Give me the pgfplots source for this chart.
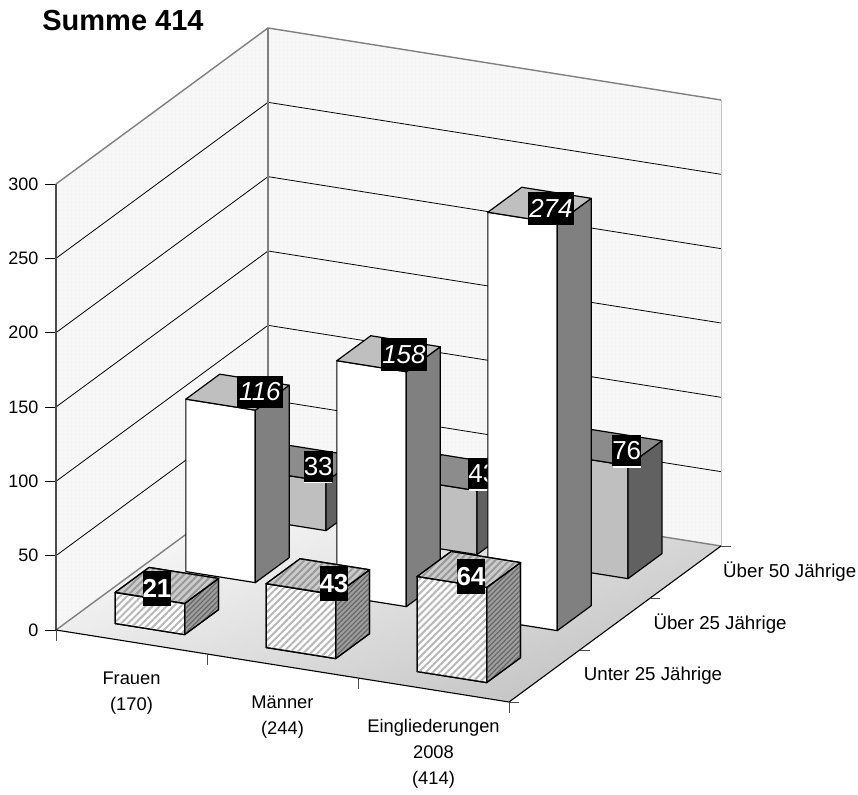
\documentclass[border=0pt]{standalone}
\usepackage{fontspec}
\setmainfont{Liberation Sans}
\usepackage{pgfplots}
\pgfplotsset{compat=1.18}
\usetikzlibrary{patterns,patterns.meta}

% faces of the columns
\tikzset{
  edge/.style={draw=black,line width=1.2pt,line join=round},
  wfront/.style={edge,fill=white},
  wside/.style={edge,fill=black!50},
  wtop/.style={edge,fill=black!25},
  gfront/.style={edge,fill=black!25},
  gside/.style={edge,fill=black!62},
  gtop/.style={edge,fill=black!45},
  hfront/.style={edge,fill=white,postaction={pattern={Lines[angle=45,distance=5pt,line width=2pt]},pattern color=black!28}},
  hside/.style={edge,fill=black!38,postaction={pattern={Lines[angle=45,distance=3.5pt,line width=1.2pt]},pattern color=black!60}},
  htop/.style={edge,fill=black!20,postaction={pattern={Lines[angle=45,distance=5pt,line width=2pt]},pattern color=black!40}},
  wall/.style={draw=none,fill=black!3,postaction={pattern={Hatch[angle=0,distance=4pt,line width=.3pt]},pattern color=black!5}},
  gridl/.style={draw=black,line width=.8pt},
  edgel/.style={draw=black!50,line width=1.4pt},
  wert/.style={fill=black,text=white,inner sep=0pt,font=\fontsize{26}{26}\selectfont},
}
% x0 x1 y0 y1 value style-prefix
\newcommand{\saeule}[6]{%
  \addplot3[#6front] coordinates {(#1,#3,0)(#2,#3,0)(#2,#3,#5)(#1,#3,#5)} -- cycle;
  \addplot3[#6side] coordinates {(#2,#3,0)(#2,#4,0)(#2,#4,#5)(#2,#3,#5)} -- cycle;
  \addplot3[#6top] coordinates {(#1,#3,#5)(#2,#3,#5)(#2,#4,#5)(#1,#4,#5)} -- cycle;
}
\newcommand{\gitter}[1]{%
  \addplot3[gridl] coordinates {(0,0,#1)(0,3,#1)(3,3,#1)};
  \draw[black,line width=.8pt] (axis cs:0,0,#1) -- ++(-11pt,0);
  \node[anchor=east,font=\fontsize{18}{22}\selectfont] at (axis cs:0,0,#1) [xshift=-14pt] {#1};
}

\begin{document}
\begin{tikzpicture}
\useasboundingbox (0,0) rectangle (858pt,794pt);
\begin{axis}[
  at={(56pt,164pt)},
  anchor=origin,
  x={(151pt,-24pt)},
  y={(70.67pt,52pt)},
  z={(0pt,1.4867pt)},
  xmin=0,xmax=3,
  ymin=0,ymax=3,
  zmin=0,zmax=300,
  axis lines=none,
  clip=false,
]
% walls and floor
\addplot3[wall] coordinates {(0,0,0)(0,3,0)(0,3,300)(0,0,300)} -- cycle;
\addplot3[wall] coordinates {(0,3,0)(3,3,0)(3,3,300)(0,3,300)} -- cycle;
\addplot3[draw=none,top color=white,middle color=black!6,bottom color=black!24,shading angle=20] coordinates {(0,0,0)(3,0,0)(3,3,0)(0,3,0)} -- cycle;

\gitter{50}
\gitter{100}
\gitter{150}
\gitter{200}
\gitter{250}
\draw[black,line width=.8pt] (axis cs:0,0,300) -- ++(-11pt,0);
\node[anchor=east,font=\fontsize{18}{22}\selectfont] at (axis cs:0,0,300) [xshift=-14pt] {300};
\draw[black,line width=.8pt] (axis cs:0,0,0) -- ++(-11pt,0);
\node[anchor=east,font=\fontsize{18}{22}\selectfont] at (axis cs:0,0,0) [xshift=-14pt] {0};

\addplot3[edgel] coordinates {(0,0,300)(0,3,300)(3,3,300)};
\addplot3[edgel] coordinates {(0,3,300)(0,3,0)};
\addplot3[edgel] coordinates {(0,0,0)(0,3,0)(3,3,0)};
\addplot3[draw=black!22,line width=1pt] coordinates {(3,3,0)(3,3,300)};
\addplot3[draw=black!70,line width=1.2pt] coordinates {(0,0,0)(0,0,300)};
\addplot3[draw=black,line width=1.1pt] coordinates {(0,0,0)(3,0,0)(3,3,0)};

% ticks on the floor
\draw[black!70,line width=.8pt] (axis cs:0,0,0) -- ++(0,-11pt);
\draw[black!70,line width=.8pt] (axis cs:1,0,0) -- ++(0,-11pt);
\draw[black!70,line width=.8pt] (axis cs:2,0,0) -- ++(0,-11pt);
\draw[black!70,line width=.8pt] (axis cs:3,0,0) -- ++(0,-11pt);
\draw[black!70,line width=.8pt] (axis cs:3,0,0) -- ++(10pt,0);
\draw[black!70,line width=.8pt] (axis cs:3,1,0) -- ++(10pt,0);
\draw[black!70,line width=.8pt] (axis cs:3,2,0) -- ++(10pt,0);
\draw[black!70,line width=.8pt] (axis cs:3,3,0) -- ++(10pt,0);

% axis texts
\node[anchor=north,align=center,font=\fontsize{18.3}{26}\selectfont,yshift=-26pt] at (axis cs:0.5,0,0) {Frauen\\(170)};
\node[anchor=north,align=center,font=\fontsize{18.3}{26}\selectfont,yshift=-26pt] at (axis cs:1.5,0,0) {Männer\\(244)};
\node[anchor=north,align=center,font=\fontsize{18.3}{26}\selectfont,yshift=-26pt] at (axis cs:2.5,0,0) {Eingliederungen\\2008\\(414)};
\node[anchor=west,font=\fontsize{18.7}{22}\selectfont,xshift=36pt] at (axis cs:3,0.5,0) {Unter 25 Jährige};
\node[anchor=west,font=\fontsize{18.7}{22}\selectfont,xshift=35pt] at (axis cs:3,1.5,0) {Über 25 Jährige};
\node[anchor=west,font=\fontsize{18.7}{22}\selectfont,xshift=34pt] at (axis cs:3,2.5,0) {Über 50 Jährige};

% back row: Über 50 Jährige
\saeule{0.275}{0.735}{2.25}{2.73}{33}{g}
\node[fill=white,minimum width=28pt,minimum height=31pt,inner sep=0pt] at (axis cs:0.505,2.49,33) [xshift=10pt,yshift=-4.4pt] {};
\node[wert,minimum width=28pt,minimum height=31pt] at (axis cs:0.505,2.49,33) [xshift=10pt,yshift=-2.6pt] {33};
\saeule{1.275}{1.735}{2.25}{2.73}{43}{g}
\node[fill=white,minimum width=28pt,minimum height=31pt,inner sep=0pt] at (axis cs:1.505,2.49,43) [xshift=23.7pt,yshift=-2.4pt] {};
\node[wert,minimum width=28pt,minimum height=31pt] at (axis cs:1.505,2.49,43) [xshift=23.7pt,yshift=-0.6pt] {43};
\saeule{2.275}{2.735}{2.25}{2.73}{76}{g}
\node[fill=white,minimum width=28pt,minimum height=31pt,inner sep=0pt] at (axis cs:2.505,2.49,76) [xshift=16.5pt,yshift=-5pt] {};
\node[wert,minimum width=28pt,minimum height=31pt] at (axis cs:2.505,2.49,76) [xshift=16.5pt,yshift=-3.2pt] {76};

% middle row: Über 25 Jährige
\saeule{0.275}{0.735}{1.25}{1.73}{116}{w}
\node[wert,minimum width=46pt,minimum height=32.7pt] at (axis cs:0.505,1.49,116) [xshift=22.4pt,yshift=0.2pt] {\itshape 116};
\saeule{1.275}{1.735}{1.25}{1.73}{158}{w}
\node[wert,minimum width=46pt,minimum height=32.7pt] at (axis cs:1.505,1.49,158) [xshift=15.4pt,yshift=-1pt] {\itshape 158};
\saeule{2.275}{2.735}{1.25}{1.73}{274}{w}
\node[wert,minimum width=46pt,minimum height=32.7pt] at (axis cs:2.505,1.49,274) [xshift=11.4pt,yshift=-3.1pt] {\itshape 274};

% front row: Unter 25 Jährige
\saeule{0.275}{0.735}{0.25}{0.73}{21}{h}
\node[wert,minimum width=28pt,minimum height=35pt] at (axis cs:0.505,0.49,21) [xshift=-9.9pt,yshift=-2.8pt] {\bfseries 21};
\saeule{1.275}{1.735}{0.25}{0.73}{43}{h}
\node[wert,minimum width=28pt,minimum height=35pt] at (axis cs:1.505,0.49,43) [xshift=16.1pt,yshift=-6.5pt] {\bfseries 43};
\saeule{2.275}{2.735}{0.25}{0.73}{64}{h}
\node[wert,minimum width=28pt,minimum height=35pt] at (axis cs:2.505,0.49,64) [xshift=2.1pt,yshift=-6.8pt] {\bfseries 64};
\end{axis}
\node[font=\bfseries\fontsize{29}{32}\selectfont] at (123pt,773pt) {Summe 414};
\end{tikzpicture}
\end{document}
